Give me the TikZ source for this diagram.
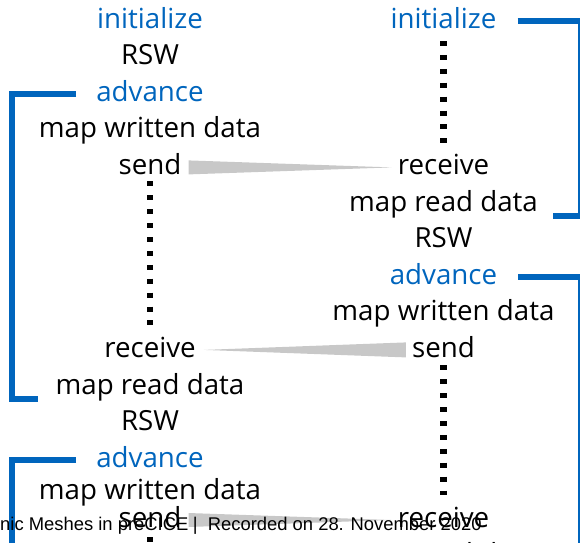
\documentclass[tikz,border=0pt]{standalone}
\usepackage{fontspec}
\setmainfont{Open Sans}
\newfontfamily\footerfont{Liberation Sans}
\definecolor{preciceblue}{RGB}{0,101,189}
\definecolor{msggray}{RGB}{200,200,200}
\begin{document}
\begin{tikzpicture}[x=1pt,y=-1pt,
    txt/.style={inner sep=0pt,anchor=base,font=\fontsize{27.7pt}{33pt}\selectfont},
    act/.style={txt,text=preciceblue},
    wait/.style={line width=6.5pt,dash pattern=on 5pt off 8.9pt},
    msg/.style={fill=msggray},
    bracket/.style={draw=preciceblue,line width=6pt}]
  \path[use as bounding box,clip] (0,0) rectangle (580,542);

  \node[act] (linit)  at (150,28)    {initialize};
  \node[txt] (lrsw)   at (150,64.6)  {RSW};
  \node[act] (ladv)   at (150,101.2) {advance};
  \node[txt] (lmap)   at (150,137.8) {map written data};
  \node[txt] (lsend)  at (150,174.4) {send};
  \node[txt] (lrecv)  at (150,357.4) {receive};
  \node[txt] (lread)  at (150,394)   {map read data};
  \node[txt] (lrsw2)  at (150,430.6) {RSW};
  \node[act] (ladv2)  at (150,467.2) {advance};
  \node[txt] (lmap2)  at (150,499)   {map written data};
  \node[txt] (lsend2) at (150,527)   {send};

  \node[act] (rinit)  at (443.5,28)    {initialize};
  \node[txt] (rrecv)  at (443.5,174.4) {receive};
  \node[txt] (rread)  at (443.5,211)   {map read data};
  \node[txt] (rrsw)   at (443.5,247.6) {RSW};
  \node[act] (radv)   at (443.5,284.2) {advance};
  \node[txt] (rmap)   at (443.5,320.8) {map written data};
  \node[txt] (rsend)  at (443.5,357.4) {send};
  \node[txt] (rrecv2) at (443.5,527)   {receive};
  \node[txt] (rread2) at (443.5,563.5) {map read data};

  \fill[msg] ([xshift=7pt]lsend.base east) -- ([xshift=7pt,yshift=14pt]lsend.base east)
    -- ([xshift=-6pt,yshift=7pt]rrecv.base west) -- cycle;
  \fill[msg] ([xshift=-6pt]rsend.base west) -- ([xshift=-6pt,yshift=15pt]rsend.base west)
    -- ([xshift=8pt,yshift=7.5pt]lrecv.base east) -- cycle;
  \fill[msg] ([xshift=7pt]lsend2.base east) -- ([xshift=7pt,yshift=14pt]lsend2.base east)
    -- ([xshift=-6pt,yshift=7pt]rrecv2.base west) -- cycle;

  \coordinate (lnext) at (150,600);
  \draw[wait] ([yshift=-7pt]lsend.base) -- ([yshift=31pt]lrecv.base);
  \draw[wait] ([yshift=-13pt]rinit.base) -- ([yshift=30pt]rrecv.base);
  \draw[wait] ([yshift=-8pt]rsend.base) -- ([yshift=32pt]rrecv2.base);
  \draw[wait] ([yshift=-10pt]lsend2.base) -- (lnext);

  \coordinate (lrail) at (11.5,0);
  \coordinate (rrail) at (581,0);
  \coordinate (bottom) at (0,580);
  \coordinate (l1top) at ([xshift=-20pt,yshift=7.5pt]ladv.base west);
  \coordinate (l1end) at ([xshift=-17pt,yshift=-5pt]lread.base west);
  \draw[bracket] (l1top) -| (lrail |- l1end) -- (l1end);
  \coordinate (l2top) at ([xshift=-20pt,yshift=7.5pt]ladv2.base west);
  \draw[bracket] (l2top) -| (lrail |- bottom);
  \coordinate (r1top) at ([xshift=21pt,yshift=7.5pt]rinit.base east);
  \coordinate (r1end) at ([xshift=15pt,yshift=-5pt]rread.base east);
  \draw[bracket] (r1top) -| (rrail |- r1end) -- (r1end);
  \coordinate (r2top) at ([xshift=21pt,yshift=7.5pt]radv.base east);
  \draw[bracket] (r2top) -| (rrail |- bottom);

  \node[inner sep=0pt,anchor=base west,font=\footerfont\fontsize{18.4pt}{22pt}\selectfont] (footer)
    at (0,530) {nic Meshes in preCICE\hspace{0.25em}|\hspace{0.55em}Recorded on 28. November 2020};
\end{tikzpicture}
\end{document}
